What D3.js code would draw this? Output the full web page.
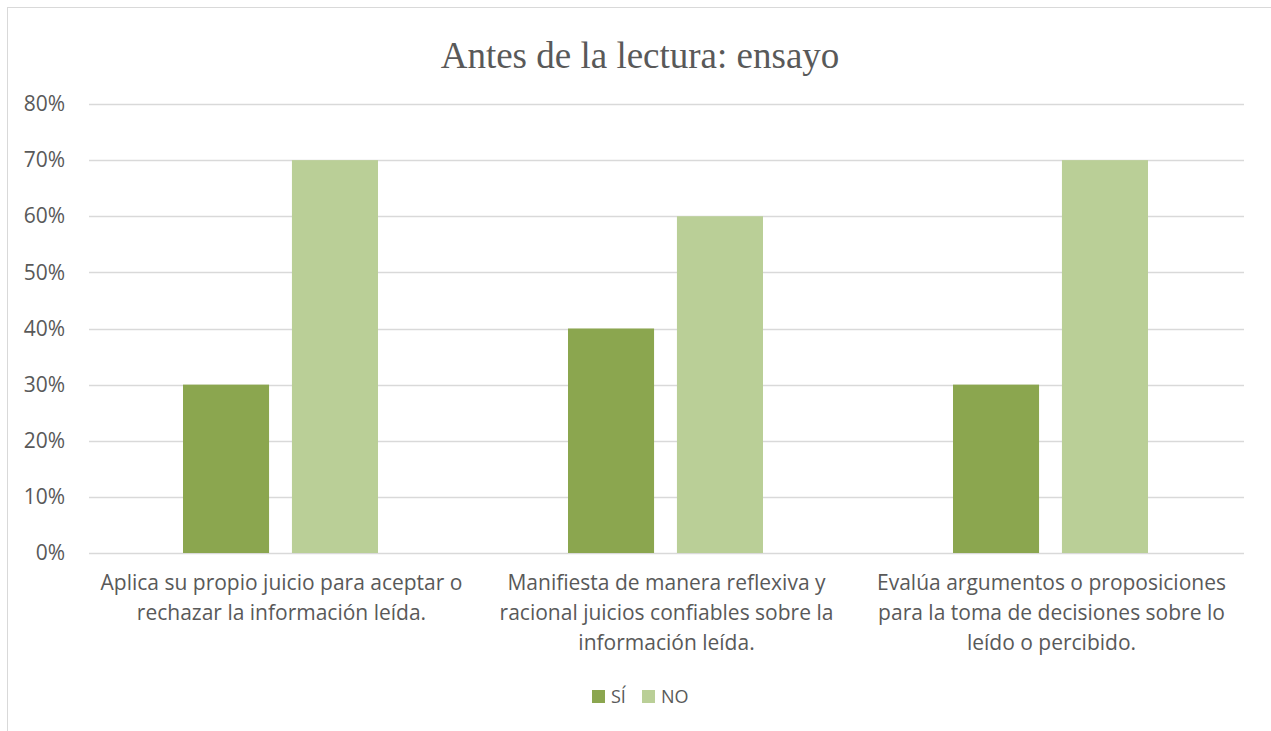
<!DOCTYPE html>
<html>
<head>
<meta charset="utf-8">
<script src="https://cdn.jsdelivr.net/npm/d3@7"></script>
<style>
  body { margin: 0; background: #fff; }
  text { fill: #595959; }
</style>
</head>
<body>
<div id="chart"></div>
<script>
// chart data
var categories = [
  ["Aplica su propio juicio para aceptar o", "rechazar la información leída."],
  ["Manifiesta de manera reflexiva y", "racional juicios confiables sobre la", "información leída."],
  ["Evalúa argumentos o proposiciones", "para la toma de decisiones sobre lo", "leído o percibido."]
];
var seriesNames = ["SÍ", "NO"];
var siValues = [0.30, 0.40, 0.30];
var noValues = [0.70, 0.60, 0.70];
var yTicks = [0, 0.1, 0.2, 0.3, 0.4, 0.5, 0.6, 0.7, 0.8];

var colors = ["#8ba64f", "#bacf97"];

var svgWidth = 1271;
var svgHeight = 731;

var margin = { top: 104, bottom: 178, left: 89, right: 27 };
var chartWidth = svgWidth - margin.left - margin.right;
var chartHeight = svgHeight - margin.top - margin.bottom;

var svg = d3.select("#chart")
  .append("svg")
  .attr("width", svgWidth)
  .attr("height", svgHeight);

// chart frame
svg.append("rect")
  .attr("x", 7.5).attr("y", 7.5)
  .attr("width", svgWidth + 20).attr("height", svgHeight + 20)
  .attr("fill", "none")
  .attr("stroke", "#d9d9d9");

// title
svg.append("text")
  .attr("x", 640)
  .attr("y", 68)
  .attr("text-anchor", "middle")
  .style("font-family", "'Liberation Serif', 'Times New Roman', serif")
  .style("font-size", "37px")
  .text("Antes de la lectura: ensayo");

var g = svg.append("g")
  .attr("transform", `translate(${margin.left}, ${margin.top})`);

var x0 = d3.scaleBand()
  .domain(d3.range(categories.length))
  .range([0, chartWidth]);

var x1 = d3.scaleBand()
  .domain(seriesNames)
  .range([94, x0.bandwidth() - 96])
  .paddingInner(0.21);

var y = d3.scaleLinear()
  .domain([0, 0.8])
  .range([chartHeight, 0]);

// gridlines
g.selectAll(".grid")
  .data(yTicks)
  .enter()
  .append("line")
  .attr("x1", 0)
  .attr("x2", chartWidth)
  .attr("y1", d => Math.round(y(d)) + 0.5)
  .attr("y2", d => Math.round(y(d)) + 0.5)
  .attr("stroke", "#d9d9d9")
  .attr("stroke-width", 1.3);

// y axis
var leftAxis = d3.axisLeft(y)
  .tickValues(yTicks)
  .tickFormat(d3.format(".0%"))
  .tickSize(0)
  .tickPadding(24);

var yAxis = g.append("g").call(leftAxis);
yAxis.select(".domain").remove();
yAxis.selectAll("text")
  .style("font-family", "'Open Sans', 'Noto Sans', sans-serif")
  .style("font-size", "21px")
  .style("fill", "#595959");

// bars
var rows = categories.map((c, i) => ({ idx: i, values: [siValues[i], noValues[i]] }));

var groups = g.selectAll(".cat")
  .data(rows)
  .enter()
  .append("g")
  .attr("transform", d => `translate(${x0(d.idx)}, 0)`);

groups.selectAll("rect")
  .data(d => d.values.map((v, j) => ({ name: seriesNames[j], value: v, j: j })))
  .enter()
  .append("rect")
  .attr("x", d => x1(d.name))
  .attr("width", x1.bandwidth())
  .attr("y", d => y(d.value))
  .attr("height", d => chartHeight - y(d.value))
  .attr("fill", d => colors[d.j]);

// category labels
groups.each(function(d) {
  var t = d3.select(this).append("text")
    .attr("text-anchor", "middle")
    .attr("x", x0.bandwidth() / 2)
    .attr("y", chartHeight + 37)
    .style("font-family", "'Open Sans', 'Noto Sans', sans-serif")
    .style("font-size", "21px");
  categories[d.idx].forEach(function(line, k) {
    t.append("tspan")
      .attr("x", x0.bandwidth() / 2)
      .attr("dy", k === 0 ? 0 : 30)
      .text(line);
  });
});

// legend
var legend = svg.append("g");
var legendX = [592, 642];
seriesNames.forEach(function(name, i) {
  legend.append("rect")
    .attr("x", legendX[i])
    .attr("y", 690)
    .attr("width", 13)
    .attr("height", 13)
    .attr("fill", colors[i]);
  legend.append("text")
    .attr("x", legendX[i] + 19)
    .attr("y", 703)
    .style("font-family", "'Open Sans', 'Noto Sans', sans-serif")
    .style("font-size", "18px")
    .text(name);
});
</script>
</body>
</html>
